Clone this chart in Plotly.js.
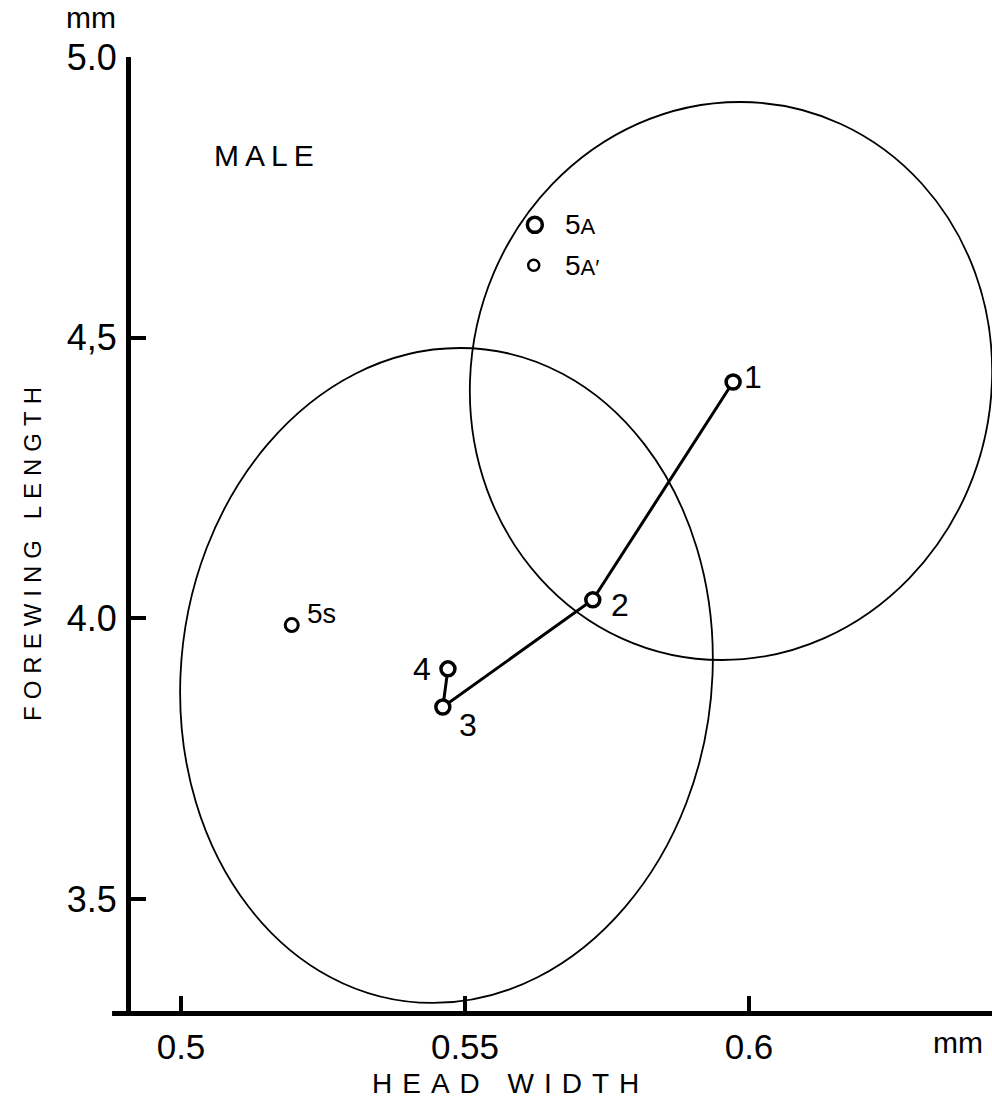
<!DOCTYPE html>
<html>
<head>
<meta charset="utf-8">
<script src="https://cdn.plot.ly/plotly-3.0.1.min.js"></script>
<style>
  html, body { margin: 0; padding: 0; background: #fff; }
  #chart { width: 992px; height: 1103px; }
</style>
</head>
<body>
<div id="chart"></div>
<script>
// Instar means (head width vs. forewing length), males
const instarLabels = ['1', '2', '3', '4'];
const instarHeadWidth = [0.5972, 0.5725, 0.5461, 0.5470];
const instarForewing = [4.421, 4.033, 3.842, 3.910];

// Separate samples
const sampleLabels = ['5s', '5A', '5A′'];
const sampleHeadWidth = [0.5195, 0.5623, 0.5621];
const sampleForewing = [3.988, 4.701, 4.629];

// Confidence ellipses in data units: centre, half-width of the horizontal
// chord through the centre, and the offset of the topmost point
const ellipseCenterX = [0.59683, 0.54674];
const ellipseCenterY = [4.4228, 3.8982];
const ellipseHalfWidth = [0.04595, 0.04683];
const ellipseTopDx = [0.00158, 0.00238];
const ellipseTopDy = [0.4970, 0.5834];

// Axis ticks
const xTickVals = [0.5, 0.55, 0.6];
const xTickText = ['0.5', '0.55', '0.6'];
const yTickVals = [3.5, 4.0, 4.5, 5.0];
const yTickText = ['3.5', '4.0', '4,5', '5.0'];

const FONT = '"Liberation Sans", Arial, sans-serif';
const INK = '#000';

// Pixel offsets of the point labels from their markers
const instarOffsets = {
  '1': [20, 5], '2': [27, -5], '3': [25, -18], '4': [-26, 0]
};
const sampleOffsets = {
  '5s': [30, 12], '5A': [46, 0], '5A′': [48, 0]
};

function labelHtml(t) {
  // the "A" of the adult samples is set in smaller capitals
  if (t.startsWith('5A')) {
    return '5<span style="font-size:22px">A' + t.slice(2) + '</span>';
  }
  if (t === '5s') return '5<span style="font-size:27px">s</span>';
  return t;
}

// Ellipse through conjugate semi-diameters u (horizontal) and v (to the top),
// drawn as four cubic Bezier arcs in data coordinates
function ellipsePath(i) {
  const k = 0.5523;
  const cx = ellipseCenterX[i], cy = ellipseCenterY[i];
  const u = [ellipseHalfWidth[i], 0];
  const v = [ellipseTopDx[i], ellipseTopDy[i]];
  const p = (a, b) => [cx + a * u[0] + b * v[0], cy + a * u[1] + b * v[1]];
  const s = q => q[0].toFixed(6) + ',' + q[1].toFixed(6);
  const P0 = p(1, 0), P1 = p(0, 1), P2 = p(-1, 0), P3 = p(0, -1);
  return 'M' + s(P0) +
    ' C' + s(p(1, k)) + ' ' + s(p(k, 1)) + ' ' + s(P1) +
    ' C' + s(p(-k, 1)) + ' ' + s(p(-1, k)) + ' ' + s(P2) +
    ' C' + s(p(-1, -k)) + ' ' + s(p(-k, -1)) + ' ' + s(P3) +
    ' C' + s(p(k, -1)) + ' ' + s(p(1, -k)) + ' ' + s(P0) + ' Z';
}

const traces = [
  {
    type: 'scatter', mode: 'lines+markers',
    x: instarHeadWidth, y: instarForewing,
    line: { color: INK, width: 3 },
    marker: { symbol: 'circle', size: 14, color: '#fff', opacity: 1,
              line: { color: INK, width: 3.5 } },
    hoverinfo: 'skip', showlegend: false, cliponaxis: false
  },
  {
    type: 'scatter', mode: 'markers',
    x: sampleHeadWidth, y: sampleForewing,
    marker: { symbol: 'circle', size: [13, 15, 11], color: '#fff', opacity: 1,
              line: { color: INK, width: [3, 3.5, 2.5] } },
    hoverinfo: 'skip', showlegend: false, cliponaxis: false
  }
];

const shapes = ellipseCenterX.map((_, i) => ({
  type: 'path', xref: 'x', yref: 'y', path: ellipsePath(i),
  line: { color: INK, width: 1.8 }, layer: 'below'
}));
// x-axis rule runs a little past the vertical axis
shapes.push({
  type: 'line', xref: 'paper', yref: 'paper',
  x0: -0.022, x1: 0.02, y0: -0.0027, y1: -0.0027,
  line: { color: INK, width: 5 }
});

const annotations = [];
instarLabels.forEach((t, i) => {
  annotations.push({
    x: instarHeadWidth[i], y: instarForewing[i], xref: 'x', yref: 'y',
    text: labelHtml(t), showarrow: false,
    xanchor: 'center', yanchor: 'middle',
    xshift: instarOffsets[t][0], yshift: instarOffsets[t][1],
    font: { family: FONT, size: 32, color: INK }
  });
});
sampleLabels.forEach((t, i) => {
  annotations.push({
    x: sampleHeadWidth[i], y: sampleForewing[i], xref: 'x', yref: 'y',
    text: labelHtml(t), showarrow: false,
    xanchor: 'center', yanchor: 'middle',
    xshift: sampleOffsets[t][0], yshift: sampleOffsets[t][1],
    font: { family: FONT, size: 28, color: INK }
  });
});
const free = { xref: 'paper', yref: 'paper', showarrow: false, xanchor: 'center', yanchor: 'middle' };
annotations.push(
  Object.assign({}, free, { x: 0.158, y: 0.897,
    text: '<span style="letter-spacing:6px">MALE</span>',
    font: { family: FONT, size: 30, color: INK } }),
  Object.assign({}, free, { x: -0.046, y: 1.041,
    text: 'mm', font: { family: FONT, size: 30, color: INK } }),
  Object.assign({}, free, { x: 0.9605, y: -0.0335,
    text: 'mm', font: { family: FONT, size: 30, color: INK } }),
  Object.assign({}, free, { x: 0.4355, y: -0.0755, xshift: 5,
    text: '<span style="letter-spacing:10px">HEAD WIDTH</span>',
    font: { family: FONT, size: 28, color: INK } }),
  Object.assign({}, free, { x: -0.1138, y: 0.4864, yshift: -4, textangle: -90,
    text: '<span style="letter-spacing:7px">FOREWING LENGTH</span>',
    font: { family: FONT, size: 24, color: INK } })
);

const layout = {
  width: 992, height: 1103,
  margin: { l: 131, r: 0, t: 57, b: 92 },
  paper_bgcolor: '#fff', plot_bgcolor: '#fff',
  showlegend: false,
  xaxis: {
    range: [0.49120, 0.64278],
    tickmode: 'array', tickvals: xTickVals, ticktext: xTickText,
    ticks: 'inside', ticklen: 15, tickwidth: 4, tickcolor: INK,
    showline: true, linecolor: INK, linewidth: 5,
    showgrid: false, zeroline: false,
    tickfont: { family: FONT, size: 35, color: INK },
    ticklabelstandoff: 1
  },
  yaxis: {
    range: [3.3005, 5.0],
    tickmode: 'array', tickvals: yTickVals, ticktext: yTickText,
    ticks: 'inside', ticklen: 15, tickwidth: 4, tickcolor: INK,
    showline: true, linecolor: INK, linewidth: 5,
    showgrid: false, zeroline: false,
    tickfont: { family: FONT, size: 36, color: INK },
    ticklabelstandoff: 2
  },
  shapes: shapes,
  annotations: annotations
};

Plotly.newPlot('chart', traces, layout, { staticPlot: true, displayModeBar: false });
</script>
</body>
</html>
